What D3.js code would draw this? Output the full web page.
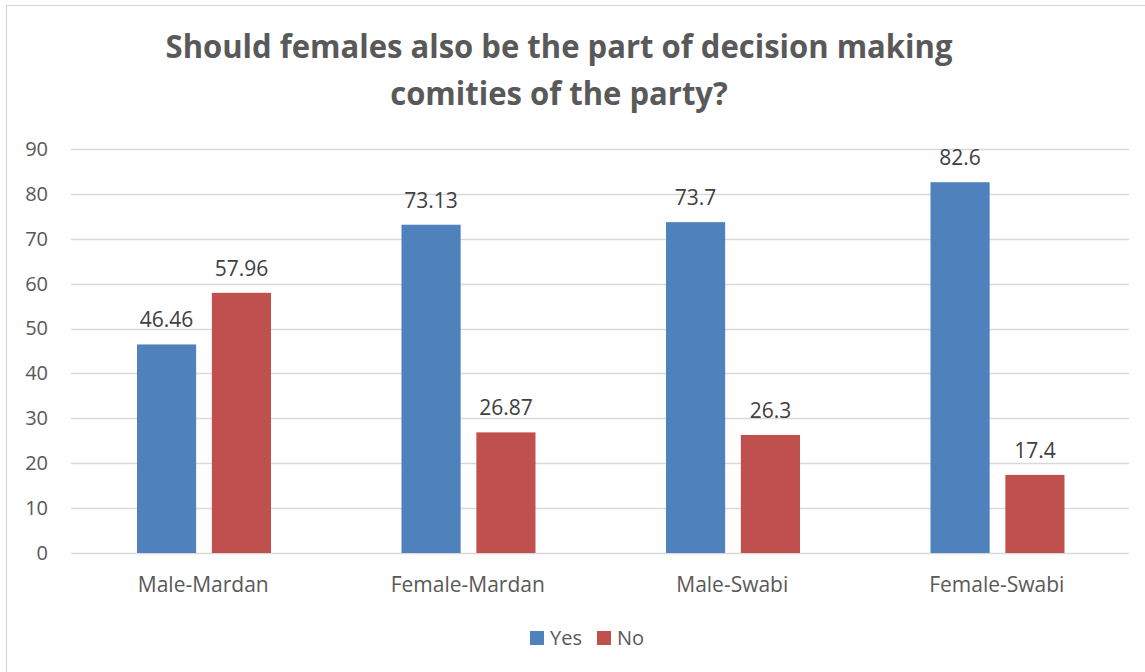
<!DOCTYPE html>
<html>
<head>
<meta charset="utf-8">
<script src="https://cdn.jsdelivr.net/npm/d3@7"></script>
<style>
  body { margin: 0; background: #fff; }
  text { font-family: "Open Sans", "DejaVu Sans", sans-serif; }
</style>
</head>
<body>
<svg width="1145" height="672"></svg>
<script>
var categories = ["Male-Mardan", "Female-Mardan", "Male-Swabi", "Female-Swabi"];
var seriesNames = ["Yes", "No"];
var yesValues = [46.46, 73.13, 73.7, 82.6];
var noValues = [57.96, 26.87, 26.3, 17.4];
var yTicks = [0, 10, 20, 30, 40, 50, 60, 70, 80, 90];
var colors = ["#4F81BD", "#C0504D"];

var svg = d3.select("svg"),
    width = +svg.attr("width"),
    height = +svg.attr("height");

// chart frame (runs off the right and bottom edges)
svg.append("rect")
    .attr("x", 6.5).attr("y", 5.5)
    .attr("width", width + 10).attr("height", height + 10)
    .attr("fill", "#fff")
    .attr("stroke", "#d9d9d9")
    .attr("stroke-width", 1.3);

// title, squeezed a bit to fit the narrow original font
var title = svg.append("text")
    .attr("transform", "translate(559,0) scale(0.94,1)")
    .attr("text-anchor", "middle")
    .style("font-weight", "bold")
    .style("font-size", "33px")
    .attr("fill", "#595959");
title.append("tspan").attr("x", 0).attr("y", 58).text("Should females also be the part of decision making");
title.append("tspan").attr("x", 0).attr("y", 105).text("comities of the party?");

var x0 = d3.scaleBand()
    .domain(categories)
    .range([71, 1129]);

var x1 = d3.scaleBand()
    .domain(seriesNames)
    .range([66, 200])
    .paddingInner(0.21);

var y = d3.scaleLinear()
    .domain([0, 90])
    .range([553, 149]);

// gridlines
svg.append("g").selectAll("line")
    .data(yTicks)
    .enter().append("line")
      .attr("x1", 71).attr("x2", 1129)
      .attr("y1", function(d) { return Math.round(y(d)) + 0.5; })
      .attr("y2", function(d) { return Math.round(y(d)) + 0.5; })
      .attr("stroke", "#d9d9d9")
      .attr("stroke-width", 1.3);

// y axis labels
var yAxis = svg.append("g")
    .attr("transform", "translate(71,0)")
    .call(d3.axisLeft(y).tickValues(yTicks).tickSize(0).tickPadding(23));
yAxis.select(".domain").remove();
yAxis.selectAll("text")
    .style("font-size", "20px")
    .attr("fill", "#595959");

// x axis labels
var xAxis = svg.append("g")
    .attr("transform", "translate(0,553)")
    .call(d3.axisBottom(x0).tickSize(0).tickPadding(0));
xAxis.select(".domain").remove();
xAxis.selectAll("text")
    .attr("dy", null)
    .attr("y", 39)
    .style("font-size", "21px")
    .attr("fill", "#595959");

var rows = categories.map(function(c, i) {
  return { cat: c, values: [yesValues[i], noValues[i]] };
});

var groups = svg.append("g").selectAll("g")
    .data(rows)
    .enter().append("g")
      .attr("transform", function(d) { return "translate(" + x0(d.cat) + ",0)"; });

groups.selectAll("rect")
    .data(function(d) { return d.values.map(function(v, j) { return { key: seriesNames[j], value: v, j: j }; }); })
    .enter().append("rect")
      .attr("x", function(d) { return x1(d.key); })
      .attr("y", function(d) { return y(d.value); })
      .attr("width", x1.bandwidth())
      .attr("height", function(d) { return y(0) - y(d.value); })
      .attr("fill", function(d) { return colors[d.j]; });

groups.selectAll("text.lbl")
    .data(function(d) { return d.values.map(function(v, j) { return { key: seriesNames[j], value: v }; }); })
    .enter().append("text")
      .attr("class", "lbl")
      .attr("x", function(d) { return x1(d.key) + x1.bandwidth() / 2; })
      .attr("y", function(d) { return y(d.value) - 17; })
      .attr("text-anchor", "middle")
      .style("font-size", "21px")
      .attr("fill", "#404040")
      .text(function(d) { return d.value; });

// legend
var legend = svg.append("g").selectAll("g")
    .data(seriesNames)
    .enter().append("g")
      .attr("transform", function(d, i) { return "translate(" + (530 + i * 67) + ",631)"; });
legend.append("rect")
    .attr("width", 14).attr("height", 14)
    .attr("fill", function(d, i) { return colors[i]; });
legend.append("text")
    .attr("x", 20).attr("y", 14)
    .style("font-size", "20px")
    .attr("fill", "#595959")
    .text(function(d) { return d; });
</script>
</body>
</html>
